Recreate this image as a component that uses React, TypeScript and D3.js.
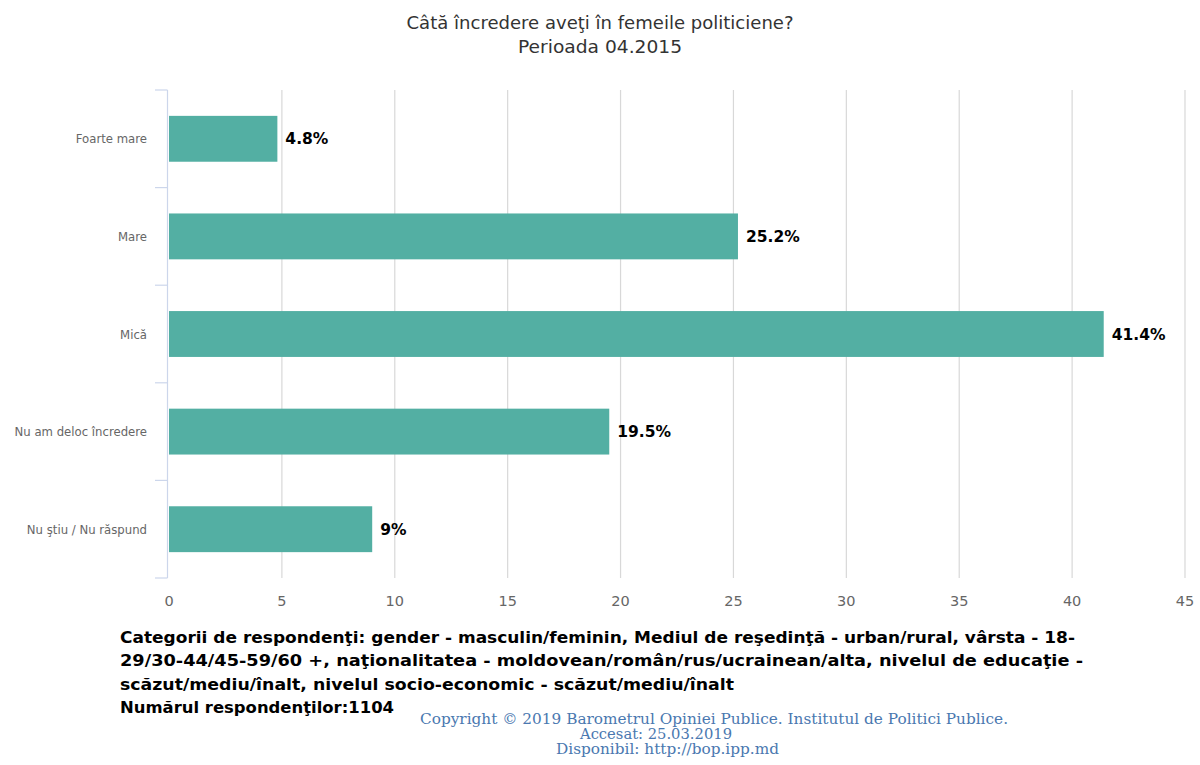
import React from 'react';
import * as d3 from 'd3';

// Survey answers and shares (%)
const categories = ['Foarte mare', 'Mare', 'Mică', 'Nu am deloc încredere', 'Nu ştiu / Nu răspund'];
const values = [4.8, 25.2, 41.4, 19.5, 9];
const xTicks = [0, 5, 10, 15, 20, 25, 30, 35, 40, 45];

const titleLines = ['Câtă încredere aveţi în femeile politiciene?', 'Perioada 04.2015'];
const noteLines = [
  'Categorii de respondenţi: gender - masculin/feminin, Mediul de reşedinţă - urban/rural, vârsta - 18-',
  '29/30-44/45-59/60 +, naţionalitatea - moldovean/român/rus/ucrainean/alta, nivelul de educaţie -',
  'scăzut/mediu/înalt, nivelul socio-economic - scăzut/mediu/înalt',
  'Numărul respondenţilor:1104',
];
const noteWidths = [955, 963, 614, 274];
const creditLines = [
  'Copyright © 2019 Barometrul Opiniei Publice. Institutul de Politici Publice.',
  'Accesat: 25.03.2019',
  'Disponibil: http://bop.ipp.md',
];
const creditX = [420, 580, 556];
const creditWidths = [588, 152, 223];

const W = 1200;
const H = 765;
const plot = { left: 169, right: 1185, top: 90, bottom: 578 };

export default function App() {
  const x = d3.scaleLinear().domain([0, 45]).range([plot.left, plot.right]);
  const y = d3.scaleBand<string>().domain(categories).range([plot.top, plot.bottom]);
  const barH = y.bandwidth() * 0.47;
  const font = '"DejaVu Sans", sans-serif';

  return (
    <svg width={W} height={H} style={{ position: 'absolute', left: 0, top: 0, background: '#fff' }}>
      <rect width={W} height={H} fill="#fff" />

      {/* title */}
      <text x={600} y={29} textAnchor="middle" fontFamily={font} fontSize={18} fill="#333"
        textLength={387} lengthAdjust="spacingAndGlyphs">{titleLines[0]}</text>
      <text x={600} y={53} textAnchor="middle" fontFamily={font} fontSize={18} fill="#333"
        textLength={164} lengthAdjust="spacingAndGlyphs">{titleLines[1]}</text>

      {/* grid */}
      {xTicks.slice(1).map((t) => (
        <line key={t} x1={x(t)} x2={x(t)} y1={plot.top} y2={plot.bottom} stroke="#d8d8d8" strokeWidth={1.2} />
      ))}

      {/* y axis line + ticks */}
      <line x1={plot.left - 1.5} x2={plot.left - 1.5} y1={plot.top} y2={plot.bottom} stroke="#ccd6eb" strokeWidth={1.2} />
      {[...categories.map((c) => y(c)!), plot.bottom].map((v, i) => (
        <line key={i} x1={plot.left - 14} x2={plot.left - 1.5} y1={v} y2={v} stroke="#ccd6eb" strokeWidth={1.2} />
      ))}

      {/* bars */}
      {categories.map((c, i) => {
        const cy = y(c)! + y.bandwidth() / 2;
        return (
          <g key={c}>
            <rect x={x(0)} y={cy - barH / 2} width={x(values[i]) - x(0)} height={barH} fill="#53afa3" />
            <text x={x(values[i]) + 8} y={cy + 5.5} fontFamily={font} fontSize={15.5} fontWeight="bold" fill="#000">
              {`${values[i]}%`}
            </text>
            <text x={147} y={cy + 4.5} textAnchor="end" fontFamily={font} fontSize={11.7} fill="#666">{c}</text>
          </g>
        );
      })}

      {/* x tick labels */}
      {xTicks.map((t) => (
        <text key={t} x={x(t)} y={606} textAnchor="middle" fontFamily={font} fontSize={14.5} fill="#666">{t}</text>
      ))}

      {/* notes */}
      {noteLines.map((l, i) => (
        <text key={i} x={120} y={643 + i * 23.3} fontFamily={font} fontSize={16.5} fontWeight="bold" fill="#000"
          textLength={noteWidths[i]} lengthAdjust="spacingAndGlyphs">{l}</text>
      ))}

      {/* credits */}
      {creditLines.map((l, i) => (
        <text key={i} x={creditX[i]} y={724 + i * 15} fontFamily='"DejaVu Serif", serif' fontSize={14}
          fill="#4a78b0" textLength={creditWidths[i]} lengthAdjust="spacingAndGlyphs">{l}</text>
      ))}
    </svg>
  );
}
